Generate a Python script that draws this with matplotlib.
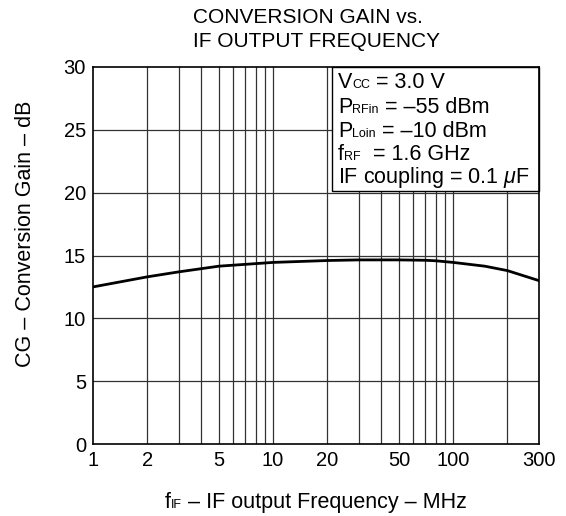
import matplotlib
matplotlib.use("Agg")
import matplotlib.pyplot as plt
from matplotlib.ticker import FixedLocator, NullLocator, NullFormatter
from matplotlib.patches import Rectangle

plt.rcParams['font.family'] = ['Liberation Sans', 'DejaVu Sans']
plt.rcParams['mathtext.fontset'] = 'custom'
plt.rcParams['mathtext.it'] = 'Liberation Sans:italic'
plt.rcParams['mathtext.rm'] = 'Liberation Sans'

# Data
freq_mhz = [1, 2, 3, 5, 10, 20, 30, 50, 70, 80, 100, 150, 200, 300]
gain_db = [12.5, 13.3, 13.7, 14.15, 14.45, 14.6, 14.65, 14.65, 14.62, 14.58, 14.45, 14.15, 13.8, 13.0]

x_ticks = [1, 2, 5, 10, 20, 50, 100, 300]
x_grid = [2, 3, 4, 5, 6, 7, 8, 9, 10, 20, 30, 40, 50, 60, 70, 80, 90, 100, 200]
y_ticks = [0, 5, 10, 15, 20, 25, 30]

W, H = 566, 516
fig = plt.figure(figsize=(W / 100, H / 100), dpi=100)
ax = fig.add_axes([93 / W, 72 / H, 446 / W, 377 / H])
ax.set_xscale('log')
ax.set_xlim(1, 300)
ax.set_ylim(0, 30)

for g in x_grid:
    ax.axvline(g, color='#333333', lw=0.9, zorder=1)
for g in y_ticks[1:-1]:
    ax.axhline(g, color='#333333', lw=0.9, zorder=1)

ax.plot(freq_mhz, gain_db, color='black', lw=2.0, zorder=3)

ax.xaxis.set_major_locator(FixedLocator(x_ticks))
ax.xaxis.set_minor_locator(NullLocator())
ax.xaxis.set_minor_formatter(NullFormatter())
ax.set_xticklabels([str(t) for t in x_ticks])
ax.set_yticks(y_ticks)
ax.tick_params(axis='both', length=0, labelsize=14.5, pad=5)
for s in ax.spines.values():
    s.set_linewidth(1.2)
    s.set_zorder(6)

FT = fig.transFigure

# Title (left aligned lines)
ax.text(193 / W, 1 - 23 / H, "CONVERSION GAIN vs.", ha='left', va='baseline', fontsize=15, transform=FT)
ax.text(193 / W, 1 - 47 / H, "IF OUTPUT FREQUENCY", ha='left', va='baseline', fontsize=15, transform=FT)

# Y label
ax.text(26 / W, 1 - 234 / H, "CG – Conversion Gain – dB", rotation=90, ha='center', va='center',
        fontsize=15.5, transform=FT)

DESC = 0.212  # approx. descent fraction of the em


def chain(parts, x, y, size=15.5, subsize=9, zorder=7):
    arts = []
    prev_fs = None
    for txt, sub in parts:
        fs = subsize if sub else size
        if not arts:
            a = ax.text(x, y, txt, fontsize=fs, ha='left', va='baseline', transform=FT,
                        zorder=zorder, clip_on=False)
        else:
            dy = DESC * (prev_fs - fs)
            a = ax.annotate(txt, xy=(1, 0), xycoords=arts[-1], xytext=(0, dy),
                            textcoords='offset points', fontsize=fs, ha='left', va='bottom',
                            annotation_clip=False, zorder=zorder)
        arts.append(a)
        prev_fs = fs
    return arts


# Legend box
box = Rectangle((332 / W, 1 - 191 / H), (539 - 332) / W, (191 - 67) / H, transform=FT,
                facecolor='white', edgecolor='black', lw=1.0, zorder=4, clip_on=False)
ax.add_patch(box)

lines = [
    [("V", False), ("CC", True), (" = 3.0 V", False)],
    [("P", False), ("RFin", True), (" = –55 dBm", False)],
    [("P", False), ("Loin", True), (" = –10 dBm", False)],
    [("f", False), ("RF", True), ("  = 1.6 GHz", False)],
    [(r"IF coupling = 0.1 $\mu$F", False)],
]
ys = [88, 113, 137, 160, 183]
for parts, yy in zip(lines, ys):
    chain(parts, 338 / W, 1 - yy / H)

# X label with subscript
chain([("f", False), ("IF", True), (" – IF output Frequency – MHz", False)], 165 / W, 1 - 508 / H)

fig.savefig("out.png", dpi=100)
